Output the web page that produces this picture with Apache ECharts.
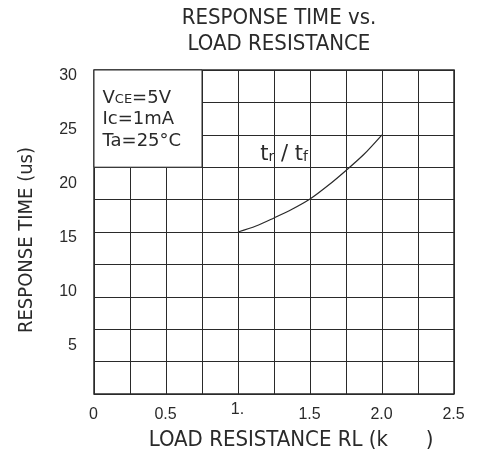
<!DOCTYPE html>
<html>
<head>
<meta charset="utf-8">
<script src="https://cdn.jsdelivr.net/npm/echarts@6/dist/echarts.min.js"></script>
<style>
  html, body { margin: 0; padding: 0; background: #fff; }
  #chart { width: 477px; height: 456px; }
</style>
</head>
<body>
<div id="chart"></div>
<script>
const FONT = "'DejaVu Sans Condensed', 'Liberation Sans Narrow', 'Liberation Sans', sans-serif"
const WIDE = "'DejaVu Sans', 'Liberation Sans', sans-serif"
const TICK = "'Liberation Sans', 'DejaVu Sans', sans-serif"
const INK = '#2a2a2a'

// load resistance (k) and response time (us)
const loadRes = [1.0, 1.125, 1.25, 1.375, 1.5, 1.625, 1.75, 1.875, 2.0]
const respTime = [15, 15.55, 16.3, 17.1, 18.05, 19.3, 20.7, 22.2, 24]

const xTickValues = [0, 0.5, 1, 1.5, 2, 2.5]
const xTickLabels = ['0', '0.5', '1.', '1.5', '2.0', '2.5']
const yTickValues = [5, 10, 15, 20, 25, 30]

const conditions = ['V{sub|CE}=5V', 'Ic=1mA', 'Ta=25°C']
const condBox = [[0, 21], [0.75, 30]]
const curveLabelAt = [1.32, 22.2]

// the "1." label sits a little higher than the others in the original
const xLabel = (v) => {
  const i = xTickValues.findIndex(t => Math.abs(t - v) < 1e-6)
  if (i < 0) return ''
  const s = xTickLabels[i]
  return (s === '1.' ? '{up|' + s + '}' : '{n|' + s + '}') + '{pad| }'
}
const yLabel = (v) => yTickValues.indexOf(v) >= 0 ? String(v) : ''

const tickText = { fontFamily: TICK, fontSize: 16, color: INK, lineHeight: 16 }

const option = {
  animation: false,
  title: {
    text: 'RESPONSE TIME vs.\nLOAD RESISTANCE',
    left: 274,
    textAlign: 'center',
    top: 0,
    textStyle: { fontFamily: FONT, fontSize: 22, fontWeight: 'normal', color: INK, lineHeight: 26 }
  },
  grid: {
    left: 94, right: 23, top: 70, bottom: 62, outerBoundsMode: 'none',
    show: true, borderColor: INK, borderWidth: 1.5, backgroundColor: '#fff'
  },
  xAxis: {
    type: 'value', min: 0, max: 2.5, interval: 0.25,
    name: 'LOAD RESISTANCE RL (k      )',
    nameLocation: 'middle', nameGap: 35,
    nameTextStyle: { fontFamily: FONT, fontSize: 22, color: INK, padding: [0, 0, 0, 34] },
    axisLine: { show: false }, axisTick: { show: false },
    splitLine: { show: true, lineStyle: { color: INK, width: 1 } },
    axisLabel: {
      margin: 8, fontFamily: TICK, fontSize: 16, color: INK,
      formatter: xLabel,
      rich: {
        n: Object.assign({ verticalAlign: 'bottom' }, tickText),
        up: Object.assign({ verticalAlign: 'top' }, tickText),
        pad: { fontFamily: TICK, fontSize: 16, lineHeight: 21, width: 1 }
      }
    }
  },
  yAxis: [
    {
      type: 'value', min: 0, max: 30, interval: 3,
      axisLine: { show: false }, axisTick: { show: false }, axisLabel: { show: false },
      splitLine: { show: true, lineStyle: { color: INK, width: 1 } }
    },
    {
      type: 'value', position: 'left', min: 0, max: 30, interval: 5,
      name: 'RESPONSE TIME (us)',
      nameLocation: 'middle', nameGap: 57,
      nameTextStyle: { fontFamily: FONT, fontSize: 20, color: INK, padding: [0, 16, 0, 0] },
      axisLine: { show: false }, axisTick: { show: false },
      splitLine: { show: false },
      axisLabel: { margin: 17, fontFamily: TICK, fontSize: 16, color: INK, formatter: yLabel, verticalAlign: 'top', lineHeight: 11 }
    }
  ],
  series: [
    {
      type: 'line',
      yAxisIndex: 0,
      data: loadRes.map((x, i) => [x, respTime[i]]),
      smooth: 0.3,
      symbol: 'none',
      lineStyle: { color: INK, width: 1.2 },
      markArea: {
        silent: true,
        itemStyle: { color: '#fff', borderColor: INK, borderWidth: 1 },
        label: {
          show: true, position: 'insideTopLeft', distance: 0,
          padding: [18, 0, 0, 9],
          formatter: conditions.join('\n'),
          fontFamily: WIDE, fontSize: 18, lineHeight: 21.5, color: INK,
          rich: { sub: { fontFamily: WIDE, fontSize: 13, color: INK, padding: [3, 0, 0, 0] } }
        },
        data: [[{ coord: condBox[0] }, { coord: condBox[1] }]]
      },
      markPoint: {
        silent: true,
        symbol: 'circle', symbolSize: 0,
        label: {
          show: true, position: 'inside',
          formatter: 't{sub|r} / t{sub|f}',
          fontFamily: WIDE, fontSize: 21, color: INK,
          rich: { sub: { fontFamily: WIDE, fontSize: 14, color: INK, padding: [6, 0, 0, 0] } }
        },
        data: [{ coord: curveLabelAt }]
      }
    }
  ]
}

const chart = echarts.init(document.getElementById('chart'))
chart.setOption(option)
</script>
</body>
</html>
